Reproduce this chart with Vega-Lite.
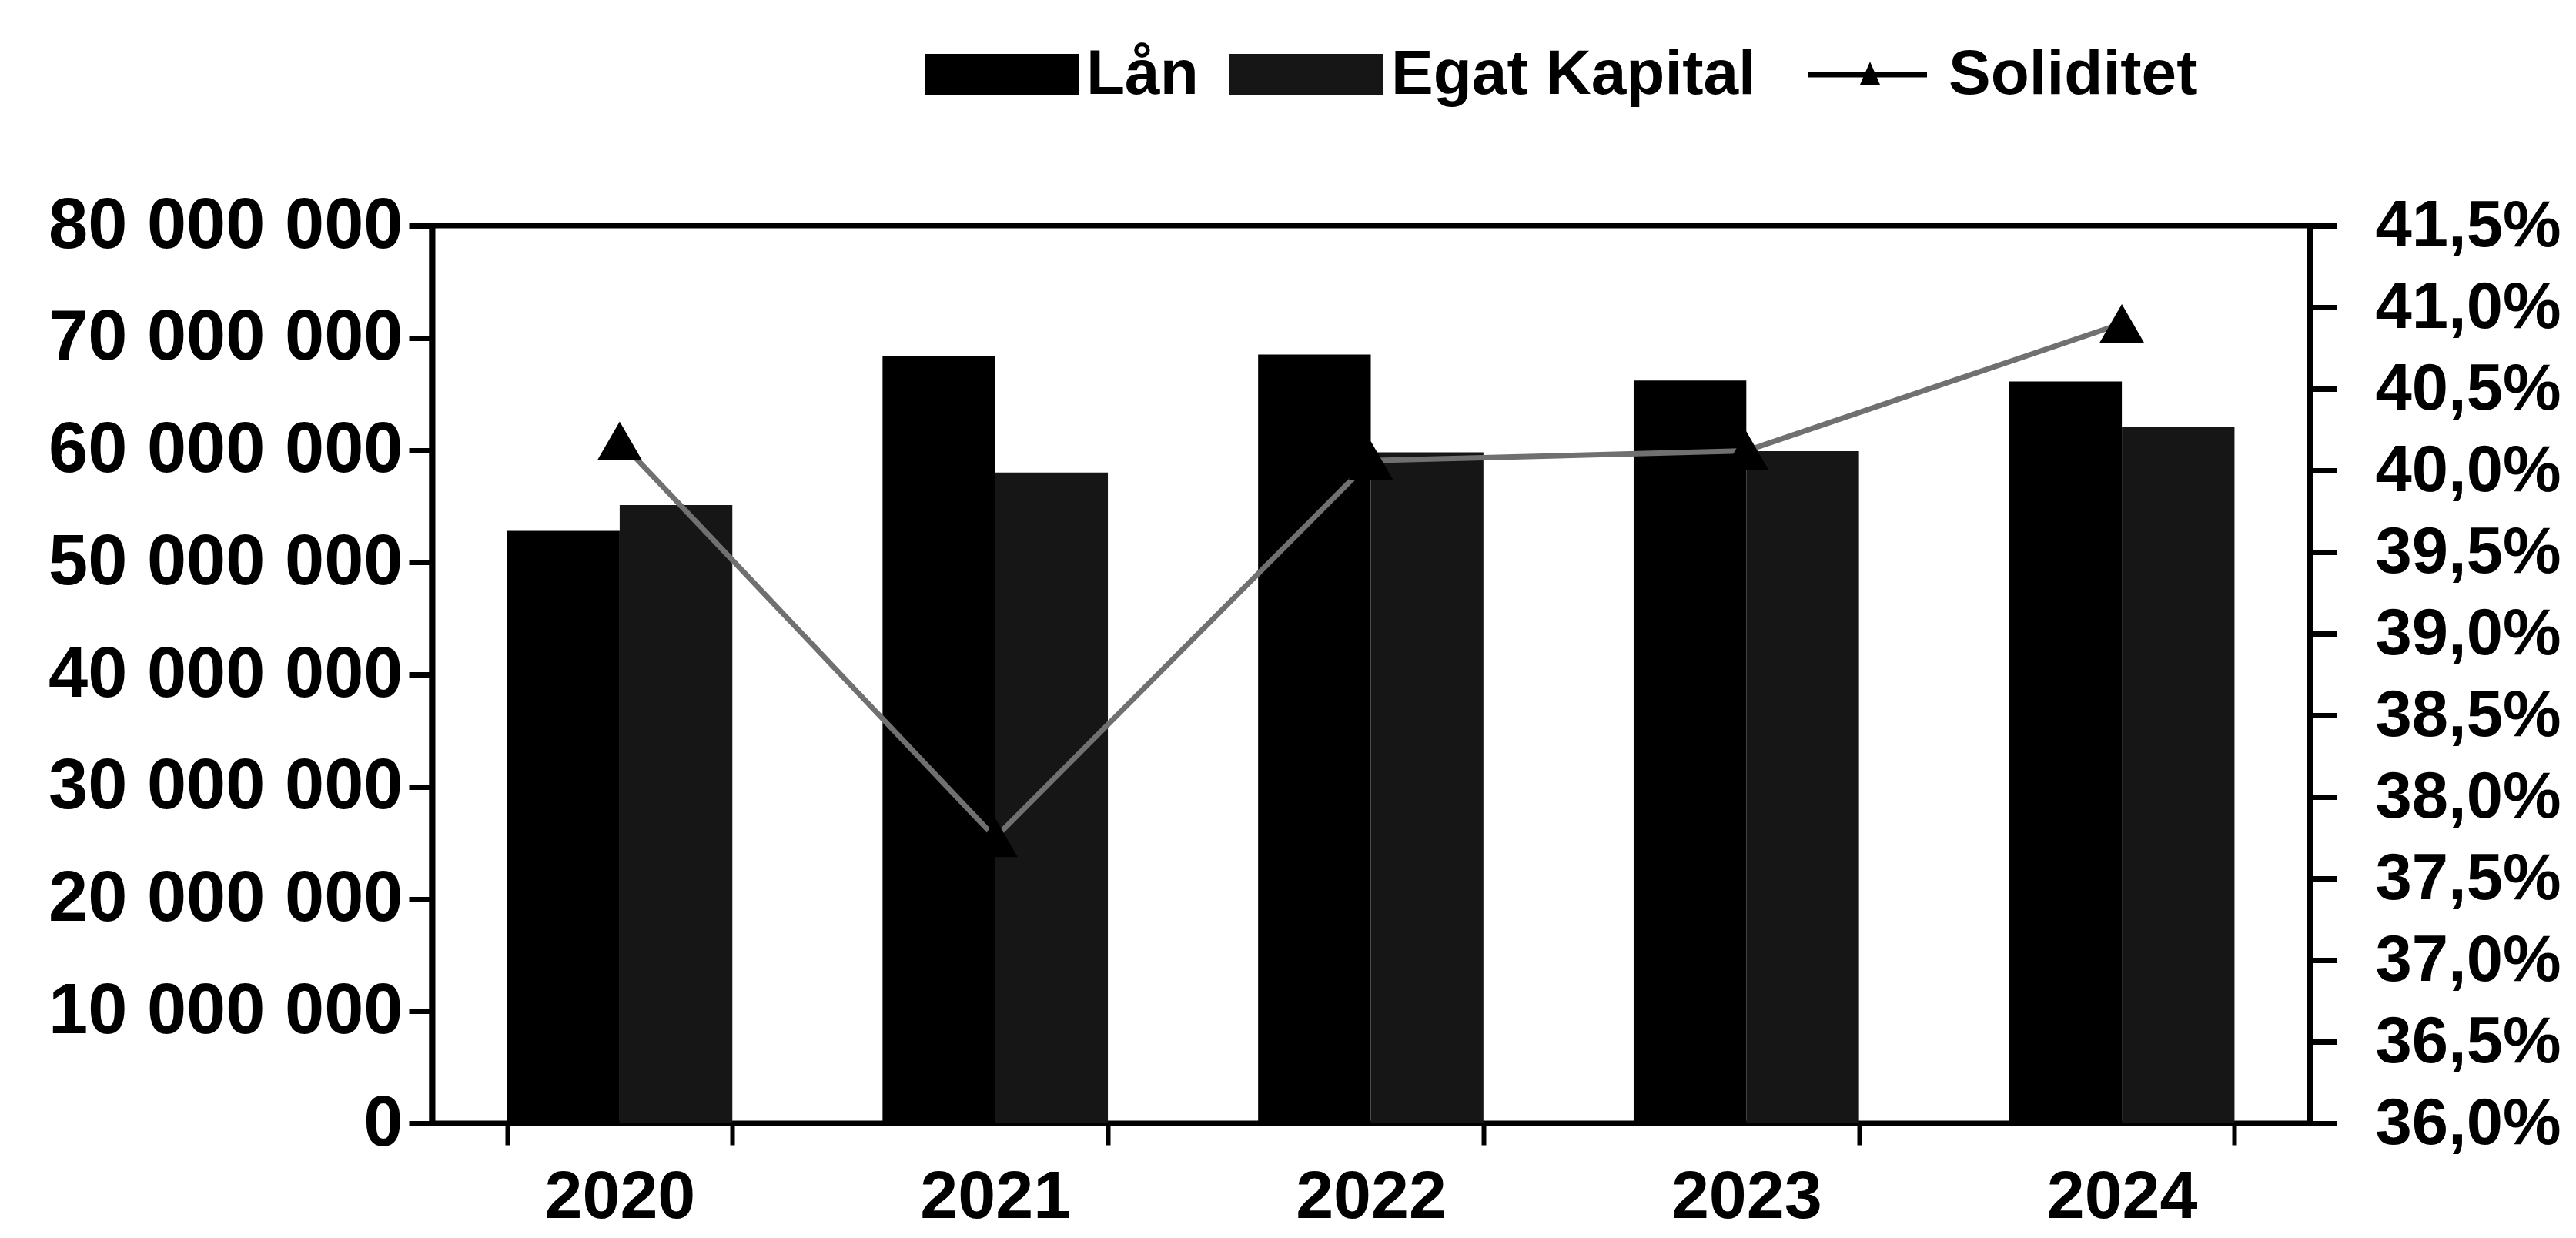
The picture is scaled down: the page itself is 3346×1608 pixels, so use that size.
{
  "$schema": "https://vega.github.io/schema/vega-lite/v6.json",
  "width": 2439,
  "height": 1166,
  "autosize": {"type": "none"},
  "padding": {"left": 561, "top": 293, "right": 346, "bottom": 149},
  "background": "white",
  "config": {
    "locale": {"number": {"decimal": ",", "thousands": " ", "grouping": [3], "currency": ["", ""]}},
    "view": {"stroke": "#000", "strokeWidth": 7},
    "axis": {"grid": false, "domainColor": "#000", "tickColor": "#000", "labelColor": "#000", "labelFont": "Liberation Sans", "labelFontWeight": "bold", "labelOverlap": false, "labelBound": false, "labelFlush": false, "labelLimit": 2000},
    "legend": {"labelLimit": 2000}
  },
  "datasets": {
    "bars": [
      {"year": "2020", "serie": "Lån", "value": 52800000},
      {"year": "2020", "serie": "Egat Kapital", "value": 55100000},
      {"year": "2021", "serie": "Lån", "value": 68400000},
      {"year": "2021", "serie": "Egat Kapital", "value": 58000000},
      {"year": "2022", "serie": "Lån", "value": 68500000},
      {"year": "2022", "serie": "Egat Kapital", "value": 59800000},
      {"year": "2023", "serie": "Lån", "value": 66200000},
      {"year": "2023", "serie": "Egat Kapital", "value": 59900000},
      {"year": "2024", "serie": "Lån", "value": 66100000},
      {"year": "2024", "serie": "Egat Kapital", "value": 62100000}
    ],
    "sol": [
      {"year": "2020", "serie": "Soliditet", "soliditet": 0.4018},
      {"year": "2021", "serie": "Soliditet", "soliditet": 0.3775},
      {"year": "2022", "serie": "Soliditet", "soliditet": 0.4006},
      {"year": "2023", "serie": "Soliditet", "soliditet": 0.4012},
      {"year": "2024", "serie": "Soliditet", "soliditet": 0.4090}
    ]
  },
  "layer": [
    {
      "data": {"name": "bars"},
      "mark": {"type": "bar"},
      "encoding": {
        "x": {
          "field": "year", "type": "ordinal",
          "scale": {"paddingInner": 0.4, "paddingOuter": 0.2},
          "axis": {"title": null, "labelAngle": 0, "labelFont": "Liberation Sans", "labelFontSize": 88, "labelFontWeight": "bold", "tickBand": "extent", "tickSize": 28, "tickWidth": 6, "domainWidth": 7, "labelPadding": 24, "labelLimit": 2000}
        },
        "xOffset": {"field": "serie", "type": "nominal", "scale": {"domain": ["Lån", "Egat Kapital"], "paddingInner": 0, "paddingOuter": 0}},
        "y": {
          "field": "value", "type": "quantitative",
          "scale": {"domain": [0, 80000000], "nice": false},
          "axis": {"orient": "left", "title": null, "values": [0, 10000000, 20000000, 30000000, 40000000, 50000000, 60000000, 70000000, 80000000], "format": ",d", "labelFontSize": 92, "tickSize": 30, "tickWidth": 7, "domainWidth": 8, "labelPadding": 8, "labelLimit": 2000}
        },
        "color": {
          "field": "serie", "type": "nominal",
          "scale": {"domain": ["Lån", "Egat Kapital", "Soliditet"], "range": ["#000000", "#161616", "#000000"]},
          "legend": {
            "orient": "none", "legendX": 640, "legendY": -296, "direction": "horizontal", "title": null,
            "symbolSize": 40000, "symbolType": "M-1,-0.27H1V0.27H-1Z",
            "labelFont": "Liberation Sans", "labelFontSize": 82, "labelFontWeight": "bold", "labelColor": "#000", "labelLimit": 2000,
            "labelOffset": 10, "columnPadding": 40, "padding": 0,
            "encode": {
              "symbols": {
                "update": {
                  "shape": {"signal": "datum.value === 'Soliditet' ? 'M-0.72,-0.035H0.82V0.035H-0.72Z M-0.05,0.13L0.08,-0.17L0.21,0.13Z' : 'M-1,-0.27H1V0.27H-1Z'"},
                  "fill": {"value": "#000"},
                  "stroke": {"value": "#000"},
                  "strokeWidth": {"value": 0},
                  "opacity": {"value": 1}
                }
              }
            }
          }
        }
      }
    },
    {
      "data": {"name": "sol"},
      "layer": [
        {
          "mark": {"type": "line", "color": "#707070", "strokeWidth": 7},
          "encoding": {
            "x": {"field": "year", "type": "ordinal"},
            "y": {
              "field": "soliditet", "type": "quantitative",
              "scale": {"domain": [0.36, 0.415], "nice": false, "zero": false},
              "axis": {"orient": "right", "title": null, "values": [0.36, 0.365, 0.37, 0.375, 0.38, 0.385, 0.39, 0.395, 0.40, 0.405, 0.41, 0.415], "format": ".1%", "labelFontSize": 85, "tickSize": 35, "tickWidth": 7, "domainWidth": 8, "labelPadding": 50, "labelLimit": 2000}
            }
          }
        },
        {
          "mark": {"type": "point", "shape": "triangle-up", "filled": true, "size": 3400, "opacity": 1},
          "encoding": {
            "x": {"field": "year", "type": "ordinal"},
            "y": {"field": "soliditet", "type": "quantitative"},
            "color": {"field": "serie", "type": "nominal"}
          }
        }
      ]
    }
  ],
  "resolve": {"scale": {"y": "independent"}}
}
